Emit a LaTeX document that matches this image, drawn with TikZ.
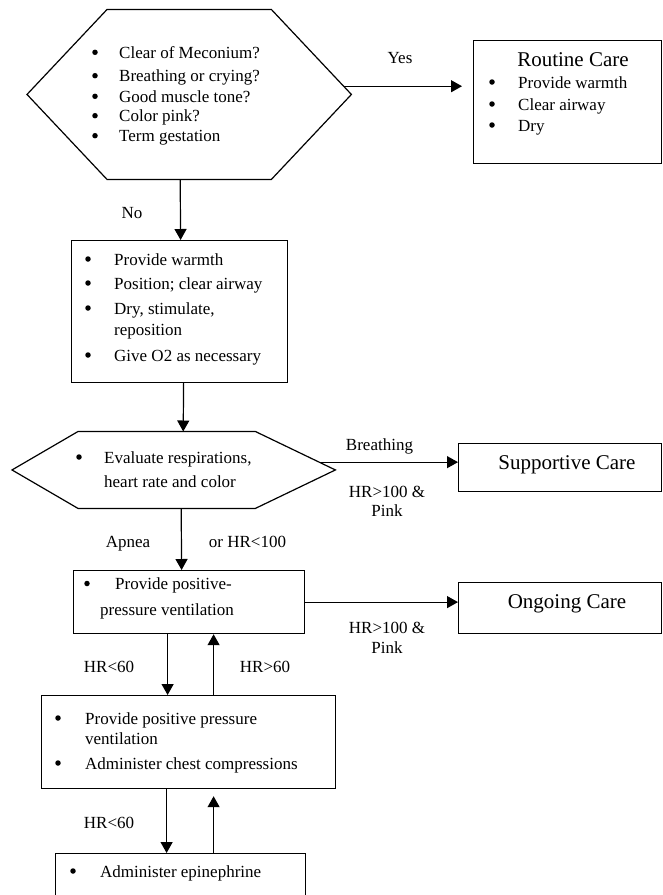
\documentclass[tikz,border=0pt]{standalone}
\usepackage{fontspec}
\setmainfont{Liberation Serif}
\usetikzlibrary{arrows.meta,calc}
\begin{document}
\begin{tikzpicture}[x=1pt,y=-1pt,
  lw/.style={line width=1.2pt},
  box/.style={draw,lw,rectangle,inner sep=0pt,anchor=north west},
  hexbody/.style={rectangle,inner sep=0pt,anchor=north west},
  txt/.style={inner sep=0pt,anchor=base west,font=\fontsize{17}{20}\selectfont},
  blt/.style={circle,fill,inner sep=0pt,minimum size=5.5pt},
  lbl/.style={inner sep=0pt,anchor=base,font=\fontsize{17}{20}\selectfont},
  ttl/.style={inner sep=0pt,anchor=base,font=\fontsize{21}{25}\selectfont},
  arr/.style={lw,-{Triangle[width=12pt,length=11pt]}}]
\useasboundingbox (0,0) rectangle (662,895);
\clip (0,0) rectangle (662,895);

% ---------- shapes ----------
\node[hexbody,minimum width=324pt,minimum height=169.5pt] (h1) at (27,9.5) {};
\draw[lw,line join=miter] ([xshift=80pt]h1.north west) -- ([xshift=-80pt]h1.north east) -- (h1.east)
  -- ([xshift=-80pt]h1.south east) -- ([xshift=80pt]h1.south west) -- (h1.west) -- cycle;

\node[box,minimum width=188pt,minimum height=123pt] (rc) at (473,40) {};
\node[box,minimum width=216pt,minimum height=142pt] (b2) at (71,240) {};

\node[hexbody,minimum width=323pt,minimum height=76.5pt] (h2) at (12,431.5) {};
\draw[lw,line join=miter] ([xshift=66pt]h2.north west) -- ([xshift=-80pt]h2.north east) -- (h2.east)
  -- ([xshift=-80pt]h2.south east) -- ([xshift=66pt]h2.south west) -- (h2.west) -- cycle;

\node[box,minimum width=203pt,minimum height=48pt] (sc) at (458,443) {};
\node[box,minimum width=231pt,minimum height=63pt] (b3) at (73,570) {};
\node[box,minimum width=203pt,minimum height=51pt] (oc) at (458,582) {};
\node[box,minimum width=294pt,minimum height=93pt] (b4) at (41,695) {};
\node[box,minimum width=250pt,minimum height=60pt] (b5) at (55,853) {};

% ---------- connectors ----------
\path ([xshift=-80pt]h1.north east) -- (h1.east) coordinate[pos=0.903] (h1y);
\draw[arr,shorten >=11pt] (h1y) -- (h1y -| rc.west);
\draw[arr] ([xshift=-9pt]h1.south) -- ([xshift=1pt]b2.north);
\draw[arr] ([xshift=4pt]b2.south) -- ([xshift=9.5pt]h2.north);
\path ([xshift=-80pt]h2.north east) -- (h2.east) coordinate[pos=0.797] (h2b);
\draw[arr] (h2b) -- (h2b -| sc.west);
\draw[arr] ([xshift=7.5pt]h2.south) -- ([xshift=-7.5pt]b3.north);
\draw[arr] (b3.east) -- (b3.east -| oc.west);
\draw[arr] ([xshift=-21.5pt]b3.south) -- ([xshift=-21pt]b4.north);
\draw[arr] ([xshift=25pt]b4.north) -- ([xshift=24.5pt]b3.south);
\draw[arr] ([xshift=-22pt]b4.south) -- ([xshift=-14pt]b5.north);
\draw[arr,shorten >=7pt] ([xshift=33pt]b5.north) -- ([xshift=25pt]b4.south);

% ---------- texts: first hexagon ----------
\node[blt] (h1d1) at (95,52.3) {};
\node[blt] (h1d2) at (95,75.7) {};
\node[blt] (h1d3) at (95,96.3) {};
\node[blt] (h1d4) at (95,115.7) {};
\node[blt] (h1d5) at (95,135.7) {};
\node[txt] (h1t1) at (119,58.3) {Clear of Meconium?};
\node[txt] (h1t2) at (119,81.7) {Breathing or crying?};
\node[txt] (h1t3) at (119,102.3) {Good muscle tone?};
\node[txt] (h1t4) at (119,121.7) {Color pink?};
\node[txt] (h1t5) at (119,141.7) {Term gestation};

% routine care
\node[ttl] (rct) at (573,66) {Routine Care};
\node[blt] (rcd1) at (492,82) {};
\node[blt] (rcd2) at (492,104) {};
\node[blt] (rcd3) at (492,125) {};
\node[txt] (rct1) at (518,88) {Provide warmth};
\node[txt] (rct2) at (518,110) {Clear airway};
\node[txt] (rct3) at (518,131) {Dry};

\node[lbl] (yes) at (400,63) {Yes};
\node[lbl] (no) at (132,218) {No};

% box 2
\node[blt] (b2d1) at (88,259) {};
\node[blt] (b2d2) at (88,283) {};
\node[blt] (b2d3) at (88,308) {};
\node[blt] (b2d4) at (88,355) {};
\node[txt] (b2t1) at (114,265) {Provide warmth};
\node[txt] (b2t2) at (114,289) {Position; clear airway};
\node[txt] (b2t3) at (114,314) {Dry, stimulate,};
\node[txt] (b2t3b) at (114,335) {reposition};
\node[txt] (b2t4) at (114,361) {Give O2 as necessary};

% hexagon 2
\node[blt] (h2d1) at (79,457) {};
\node[txt] (h2t1) at (104,463) {Evaluate respirations,};
\node[txt] (h2t2) at (104,487) {heart rate and color};

\node[lbl] (brth) at (379.5,450) {Breathing};
\node[lbl] (hra1) at (387,497) {HR>100 \&};
\node[lbl] (hrb1) at (387,516) {Pink};
\node[ttl] (sct) at (567,469.5) {Supportive Care};

\node[lbl] (apn) at (128,547) {Apnea};
\node[lbl] (orh) at (247.5,547) {or HR<100};

% box 3
\node[blt] (b3d1) at (87,583.5) {};
\node[txt] (b3t1) at (115,589.5) {Provide positive-};
\node[txt] (b3t2) at (100,615) {pressure ventilation};

\node[ttl] (oct) at (567,608.5) {Ongoing Care};
\node[lbl] (hra2) at (387,633) {HR>100 \&};
\node[lbl] (hrb2) at (387,653) {Pink};

\node[lbl] (lo1) at (109,672) {HR<60};
\node[lbl] (hi1) at (265,672) {HR>60};

% box 4
\node[blt] (b4d1) at (58,718) {};
\node[blt] (b4d2) at (58,763) {};
\node[txt] (b4t1) at (85,724) {Provide positive pressure};
\node[txt] (b4t1b) at (85,744) {ventilation};
\node[txt] (b4t2) at (85,769) {Administer chest compressions};

\node[lbl] (lo2) at (109,828) {HR<60};

% box 5
\node[blt] (b5d1) at (73,871) {};
\node[txt] (b5t1) at (100,877) {Administer epinephrine};
\end{tikzpicture}
\end{document}
